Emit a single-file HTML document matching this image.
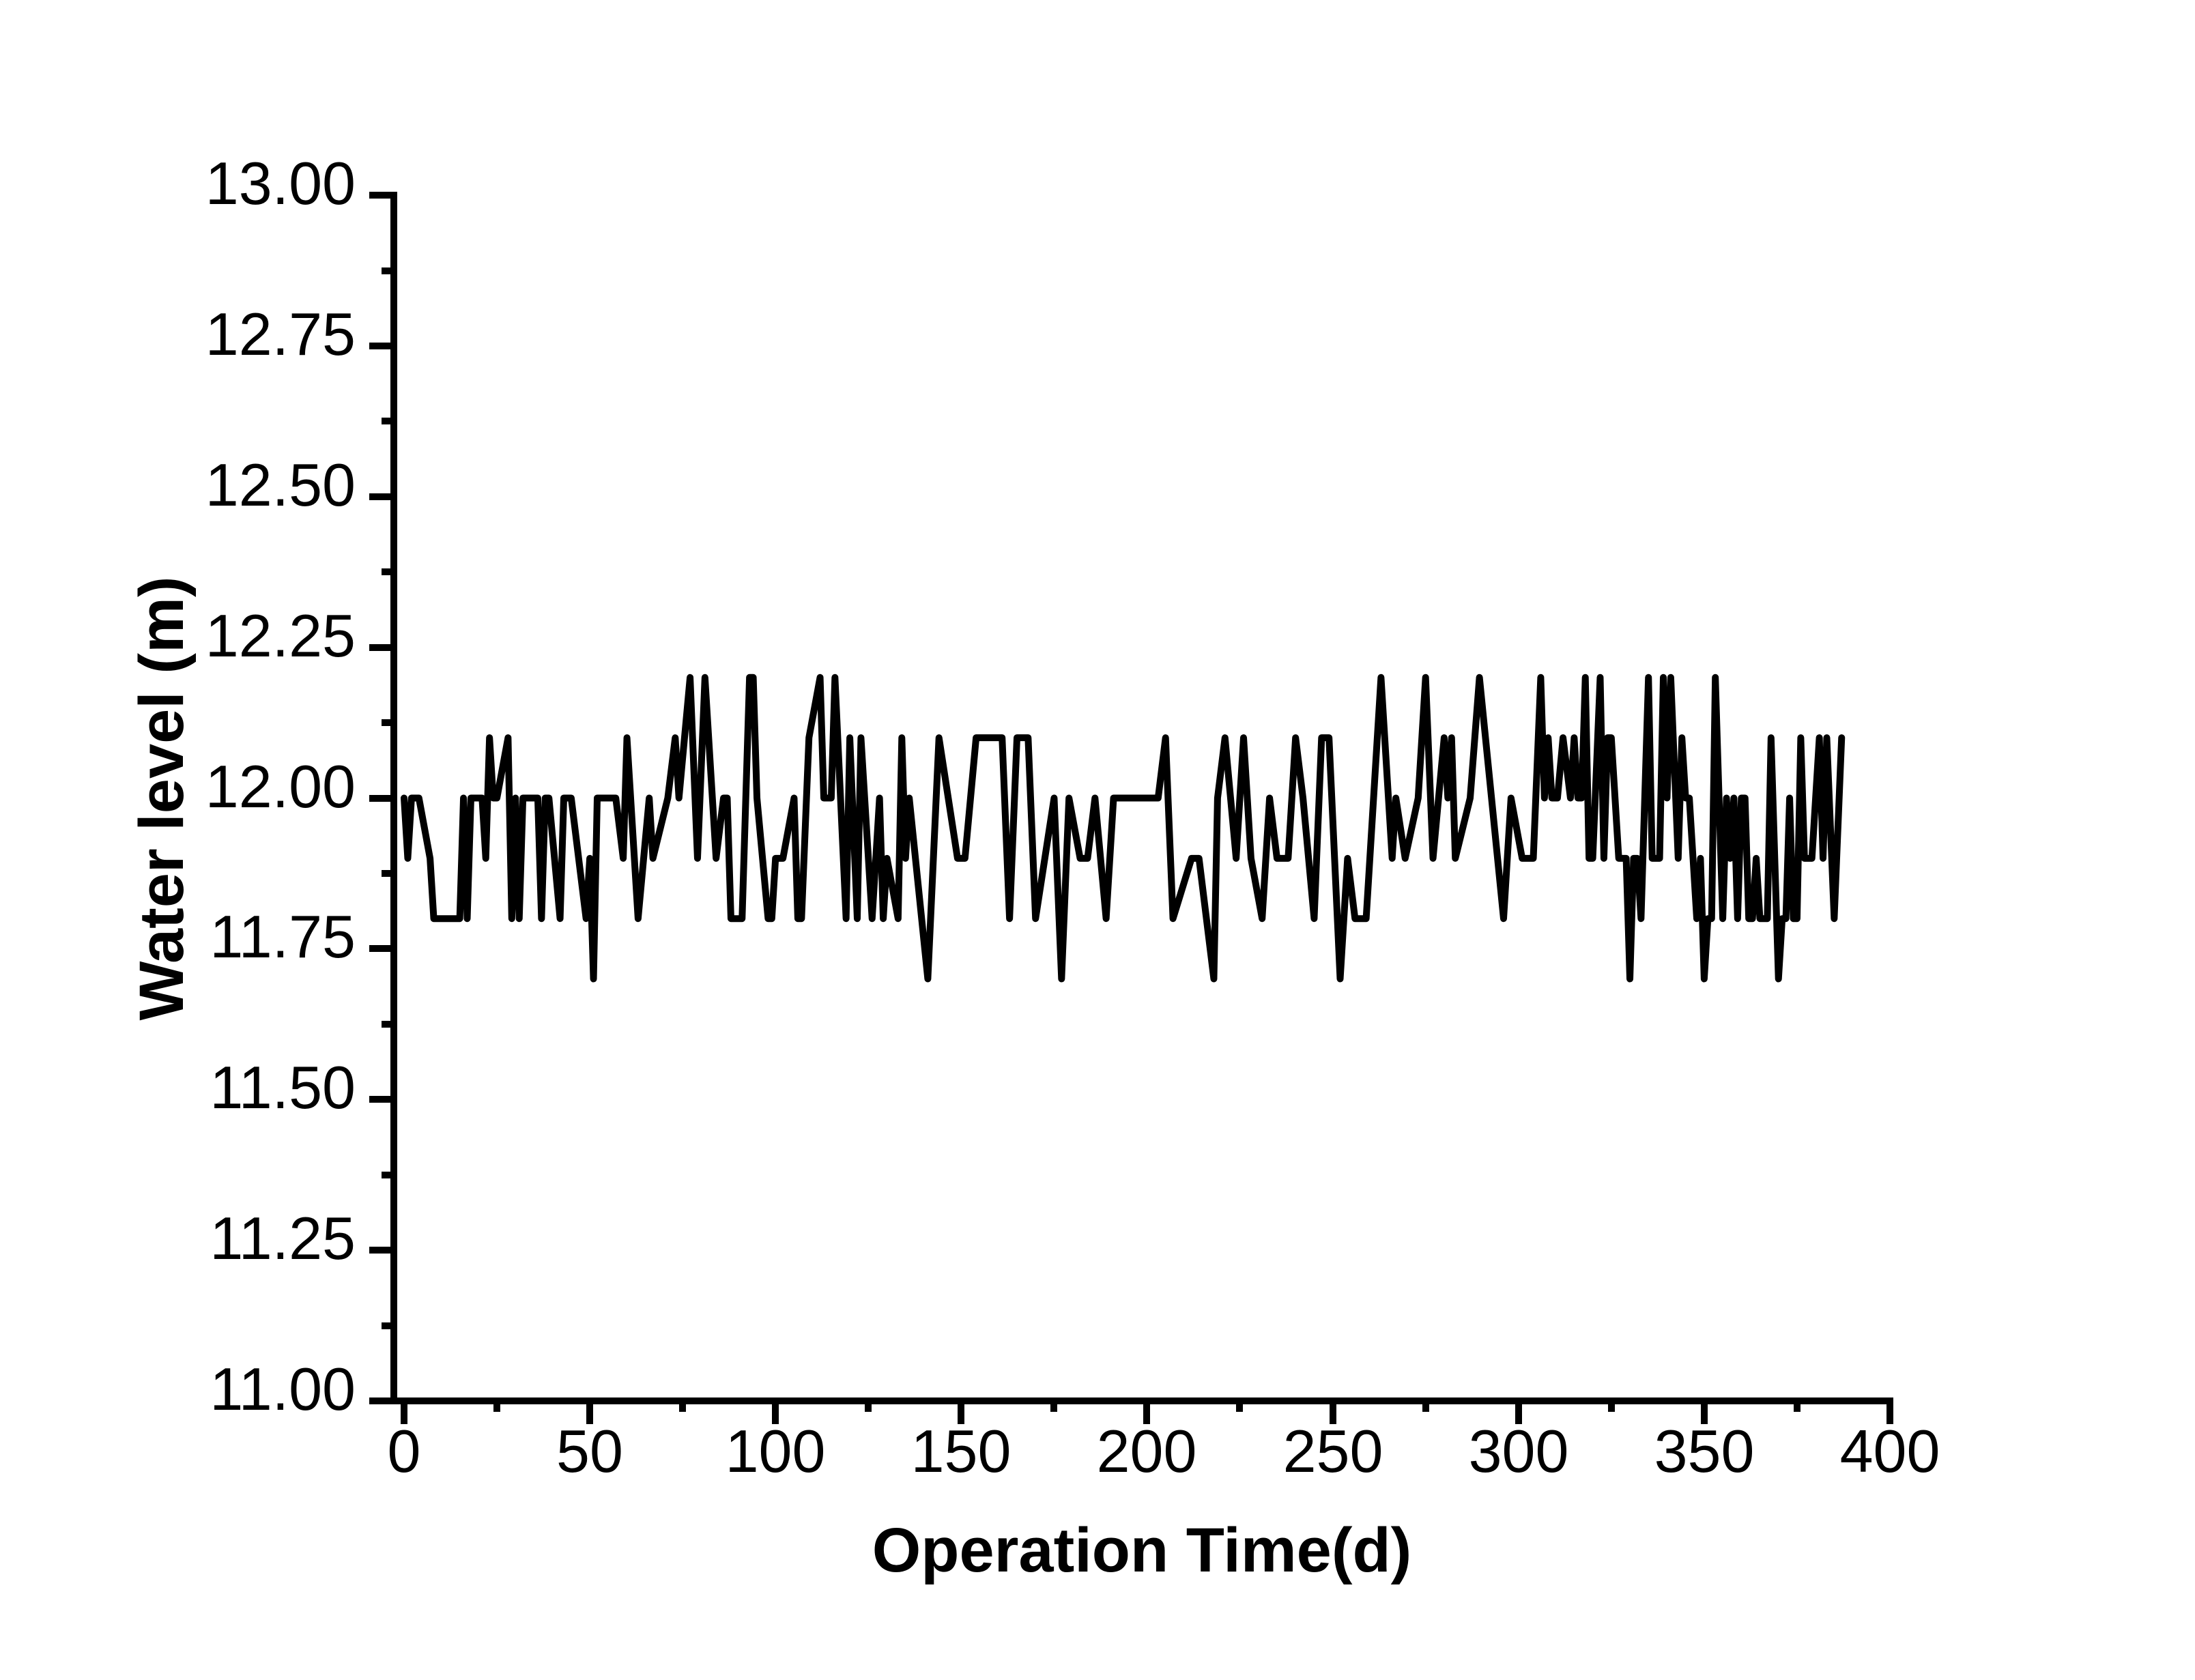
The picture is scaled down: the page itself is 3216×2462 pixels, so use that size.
<!DOCTYPE html>
<html>
<head>
<meta charset="utf-8">
<style>
  html, body { margin: 0; padding: 0; background: #ffffff; }
  svg { display: block; }
  text { font-family: "Liberation Sans", Arial, sans-serif; fill: #000; }
</style>
</head>
<body>
<svg width="3216" height="2462" viewBox="0 0 3216 2462" xmlns="http://www.w3.org/2000/svg">
  <rect x="0" y="0" width="3216" height="2462" fill="#ffffff"/>

  <!-- Data series -->
  <g transform="translate(592,2053) scale(5.4425,-883.5)">
    <polyline fill="none" stroke="#000" stroke-width="10" vector-effect="non-scaling-stroke" stroke-linejoin="round" stroke-linecap="round"
      points="0,1 1,.9 2,1 4,1 7,.9 8,.8 15,.8 16,1 17,.8 18,1 21,1 22,.9 23,1.1 24,1 25,1 28,1.1 29,.8 30,1 31,.8 32,1 36,1 37,.8 38,1 39,1 42,.8 43,1 45,1 49,.8 50,.9 51,.7 52,1 57,1 59,.9 60,1.1 63,.8 66,1 67,.9 71,1 73,1.1 74,1 77,1.2 79,.9 81,1.2 84,.9 86,1 87,1 88,.8 91,.8 93,1.2 94,1.2 95,1 98,.8 99,.8 100,.9 102,.9 105,1 106,.8 107,.8 109,1.1 112,1.2 113,1 115,1 116,1.2 119,.8 120,1.1 122,.8 123,1.1 126,.8 128,1 129,.8 130,.9 133,.8 134,1.1 135,.9 136,1 141,.7 144,1.1 149,.9 151,.9 154,1.1 161,1.1 163,.8 165,1.1 168,1.1 170,.8 175,1 177,.7 179,1 182,.9 184,.9 186,1 189,.8 191,1 203,1 205,1.1 207,.8 212,.9 214,.9 218,.7 219,1 221,1.1 224,.9 226,1.1 228,.9 231,.8 233,1 235,.9 238,.9 240,1.1 242,1 245,.8 247,1.1 249,1.1 252,.7 254,.9 256,.8 259,.8 263,1.2 266,.9 267,1 269.5,.9 273,1 275,1.2 277,.9 280,1.1 281,1 282,1.1 283,.9 287,1 289.5,1.2 296,.8 298,1 301,.9 304,.9 306,1.2 307,1 308,1.1 309,1 310.5,1 312,1.1 314,1 315,1.1 316,1 317,1 318,1.2 319,.9 320,.9 322,1.2 323,.9 324,1.1 325,1.1 327,.9 329,.9 330,.7 331,.9 332,.9 333,.8 335,1.2 336,.9 338,.9 339,1.2 340,1 341,1.2 343,.9 344,1.1 345,1 346,1 348,.8 349,.9 350,.7 351,.8 352,.8 353,1.2 355,.8 356,1 357,.9 358,1 359,.8 360,1 361,1 362,.8 363,.8 364,.9 365,.8 367,.8 368,1.1 370,.7 371,.8 372,.8 373,1 374,.8 375,.8 376,1.1 377,.9 379,.9 381,1.1 382,.9 383,1.1 385,.8 387,1.1"/>
  </g>

  <!-- Axes -->
  <rect x="572" y="281" width="10" height="1777" fill="#000"/>
  <rect x="541" y="2048" width="2233" height="10" fill="#000"/>

  <!-- Y major ticks -->
  <g fill="#000">
    <rect x="541" y="281" width="36" height="10"/>
    <rect x="541" y="502" width="36" height="10"/>
    <rect x="541" y="723" width="36" height="10"/>
    <rect x="541" y="944" width="36" height="10"/>
    <rect x="541" y="1165" width="36" height="10"/>
    <rect x="541" y="1385" width="36" height="10"/>
    <rect x="541" y="1606" width="36" height="10"/>
    <rect x="541" y="1827" width="36" height="10"/>
    <!-- Y minor ticks -->
    <rect x="559" y="392" width="18" height="10"/>
    <rect x="559" y="612" width="18" height="10"/>
    <rect x="559" y="833" width="18" height="10"/>
    <rect x="559" y="1054" width="18" height="10"/>
    <rect x="559" y="1275" width="18" height="10"/>
    <rect x="559" y="1496" width="18" height="10"/>
    <rect x="559" y="1717" width="18" height="10"/>
    <rect x="559" y="1938" width="18" height="10"/>
  </g>

  <!-- X major ticks -->
  <g fill="#000">
    <rect x="587" y="2053" width="10" height="34"/>
    <rect x="859" y="2053" width="10" height="34"/>
    <rect x="1131" y="2053" width="10" height="34"/>
    <rect x="1403" y="2053" width="10" height="34"/>
    <rect x="1675" y="2053" width="10" height="34"/>
    <rect x="1948" y="2053" width="10" height="34"/>
    <rect x="2220" y="2053" width="10" height="34"/>
    <rect x="2492" y="2053" width="10" height="34"/>
    <rect x="2764" y="2048" width="10" height="39"/>
    <!-- X minor ticks -->
    <rect x="723" y="2053" width="10" height="16"/>
    <rect x="995" y="2053" width="10" height="16"/>
    <rect x="1267" y="2053" width="10" height="16"/>
    <rect x="1539" y="2053" width="10" height="16"/>
    <rect x="1811" y="2053" width="10" height="16"/>
    <rect x="2084" y="2053" width="10" height="16"/>
    <rect x="2356" y="2053" width="10" height="16"/>
    <rect x="2628" y="2053" width="10" height="16"/>
  </g>

  <!-- Y tick labels -->
  <g font-size="88" text-anchor="end">
    <text x="521" y="299">13.00</text>
    <text x="521" y="520">12.75</text>
    <text x="521" y="741">12.50</text>
    <text x="521" y="962">12.25</text>
    <text x="521" y="1183">12.00</text>
    <text x="521" y="1403">11.75</text>
    <text x="521" y="1624">11.50</text>
    <text x="521" y="1845">11.25</text>
    <text x="521" y="2066">11.00</text>
  </g>

  <!-- X tick labels -->
  <g font-size="88" text-anchor="middle">
    <text x="592" y="2157">0</text>
    <text x="864" y="2157">50</text>
    <text x="1136" y="2157">100</text>
    <text x="1408" y="2157">150</text>
    <text x="1680" y="2157">200</text>
    <text x="1953" y="2157">250</text>
    <text x="2225" y="2157">300</text>
    <text x="2497" y="2157">350</text>
    <text x="2769" y="2157">400</text>
  </g>

  <!-- Axis titles -->
  <text x="1673" y="2303" font-size="92" font-weight="bold" text-anchor="middle">Operation Time(d)</text>
  <text x="0" y="0" font-size="92" font-weight="bold" text-anchor="middle" transform="translate(268,1170) rotate(-90)">Water level (m)</text>
</svg>
</body>
</html>
